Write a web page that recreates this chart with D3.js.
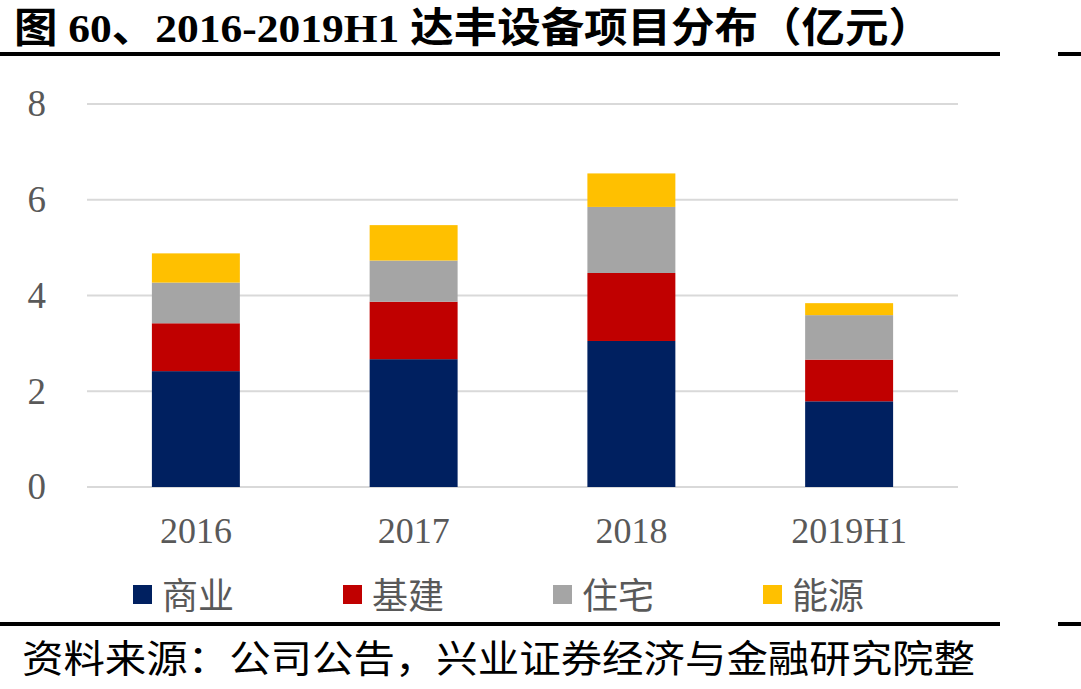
<!DOCTYPE html>
<html>
<head>
<meta charset="utf-8">
<script src="https://cdn.jsdelivr.net/npm/d3@7"></script>
<style>
  body { margin: 0; background: #fff; }
  svg { display: block; }
</style>
</head>
<body>
<svg id="chart"></svg>
<script>
// data (亿元)
const years = ["2016", "2017", "2018", "2019H1"];
const seriesNames = ["商业", "基建", "住宅", "能源"];
const shangye = [2.42, 2.67, 3.05, 1.79];
const jijian = [1.00, 1.20, 1.42, 0.87];
const zhuzhai = [0.85, 0.86, 1.38, 0.93];
const nengyuan = [0.61, 0.74, 0.70, 0.25];
const yTicks = [0, 2, 4, 6, 8];

const colors = ["#002060", "#C00000", "#A5A5A5", "#FFC000"];

const W = 1081, H = 689;
const margin = {top: 104, right: 123, bottom: 202, left: 87};
const innerW = W - margin.left - margin.right;
const innerH = H - margin.top - margin.bottom;

const svg = d3.select("#chart").attr("width", W).attr("height", H);

// title
svg.append("text")
    .attr("x", 14).attr("y", 42)
    .attr("font-family", "'Liberation Serif', 'Noto Sans CJK SC', serif")
    .attr("font-weight", "bold")
    .attr("font-size", 41)
    .attr("fill", "#000")
    .attr("textLength", 918)
    .attr("lengthAdjust", "spacingAndGlyphs")
    .text("图 60、2016-2019H1 达丰设备项目分布（亿元）");

// black rules
[52, 622].forEach(yy => {
    svg.append("rect").attr("x", 0).attr("y", yy).attr("width", 1000).attr("height", 4).attr("fill", "#000");
    svg.append("rect").attr("x", 1058).attr("y", yy).attr("width", 23).attr("height", 4).attr("fill", "#000");
});

const chart = svg.append("g")
    .attr("transform", `translate(${margin.left}, ${margin.top})`);

const x = d3.scaleBand().domain(years).range([0, innerW]).paddingInner(0.596).paddingOuter(0.298);
const y = d3.scaleLinear().domain([0, 8]).range([innerH, 0]);

// gridlines
chart.append("g")
    .selectAll("line")
    .data(yTicks)
    .enter()
    .append("line")
    .attr("x1", 0).attr("x2", innerW)
    .attr("y1", d => y(d)).attr("y2", d => y(d))
    .attr("stroke", "#D9D9D9")
    .attr("stroke-width", 2);

// y axis labels
const yaxis = d3.axisLeft(y).tickValues(yTicks).tickSize(0).tickPadding(41);
chart.append("g").call(yaxis)
    .call(g => g.select(".domain").remove())
    .selectAll("text")
    .attr("font-family", "'Liberation Serif', serif")
    .attr("font-size", 37)
    .attr("fill", "#595959");

// stacked bars
const rows = years.map((yr, i) => ({
    year: yr, "商业": shangye[i], "基建": jijian[i], "住宅": zhuzhai[i], "能源": nengyuan[i]
}));
const stacked = d3.stack().keys(seriesNames)(rows);

chart.selectAll("g.series")
    .data(stacked)
    .enter()
    .append("g")
    .attr("class", "series")
    .attr("fill", (d, i) => colors[i])
    .selectAll("rect")
    .data(d => d)
    .enter()
    .append("rect")
    .attr("x", d => x(d.data.year))
    .attr("width", x.bandwidth())
    .attr("y", d => y(d[1]))
    .attr("height", d => y(d[0]) - y(d[1]));

// x axis labels
const xaxis = d3.axisBottom(x).tickSize(0).tickPadding(30);
chart.append("g")
    .attr("transform", `translate(0, ${innerH})`)
    .call(xaxis)
    .call(g => g.select(".domain").remove())
    .selectAll("text")
    .attr("font-family", "'Liberation Serif', serif")
    .attr("font-size", 36)
    .attr("fill", "#595959");

// legend
const legend = svg.append("g").attr("transform", "translate(133, 0)");
seriesNames.forEach((name, i) => {
    const g = legend.append("g").attr("transform", `translate(${i * 210}, 0)`);
    g.append("rect").attr("x", 0).attr("y", 585).attr("width", 19).attr("height", 19).attr("fill", colors[i]);
    g.append("text")
        .attr("x", 29).attr("y", 609)
        .attr("font-family", "'Noto Sans CJK SC', sans-serif")
        .attr("font-size", 36)
        .attr("fill", "#595959")
        .text(name);
});

// source
svg.append("text")
    .attr("x", 22).attr("y", 672)
    .attr("font-family", "'Noto Sans CJK SC', sans-serif")
    .attr("font-size", 38)
    .attr("fill", "#000")
    .attr("textLength", 953)
    .attr("lengthAdjust", "spacingAndGlyphs")
    .text("资料来源：公司公告，兴业证券经济与金融研究院整");
</script>
</body>
</html>
